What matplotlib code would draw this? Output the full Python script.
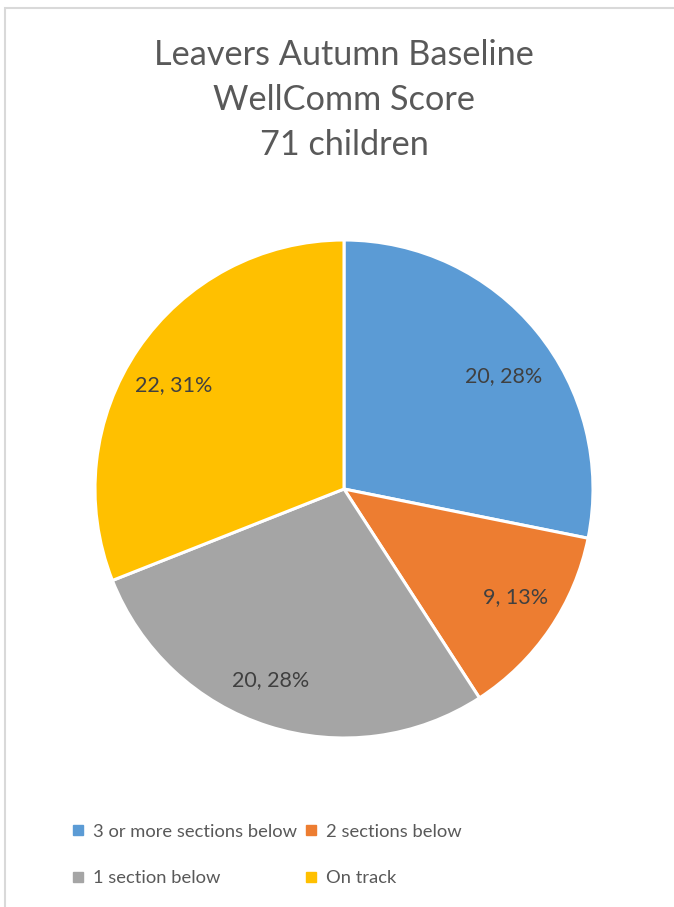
import matplotlib
matplotlib.use("Agg")
import matplotlib.pyplot as plt
from matplotlib.patches import Rectangle
from matplotlib.lines import Line2D

categories = ["3 or more sections below", "2 sections below", "1 section below", "On track"]
counts = [20, 9, 20, 22]
colors = ["#5B9BD5", "#ED7D31", "#A5A5A5", "#FFC000"]
title_lines = ["Leavers Autumn Baseline", "WellComm Score", "71 children"]

# label placement (fraction of radius, x/y) as in the original layout
label_pos = [(0.641, 0.454), (0.687, -0.434), (-0.293, -0.767), (-0.685, 0.418)]

plt.rcParams['font.family'] = ['Lato', 'DejaVu Sans']

W, H = 674, 907
fig = plt.figure(figsize=(W / 100, H / 100), dpi=100)

# border
fig.add_artist(Rectangle((4.5 / W, -0.1), 1.2, (H - 7.5) / H + 0.1, transform=fig.transFigure,
                         fill=False, edgecolor="#D9D9D9", linewidth=1.5))

cx, cy, r = 344, 489, 249
ax = fig.add_axes([(cx - r) / W, (H - cy - r) / H, 2 * r / W, 2 * r / H])
total = sum(counts)
labels = [f"{c}, {round(c / total * 100)}%" for c in counts]
wedges, texts = ax.pie(counts, colors=colors, startangle=90, counterclock=False,
                       labels=labels, labeldistance=0.79,
                       wedgeprops=dict(edgecolor="white", linewidth=2.2),
                       textprops=dict(fontsize=15.5, color="#404040"))
for t, p in zip(texts, label_pos):
    t.set_ha("center")
    t.set_va("center")
    t.set_position(p)
ax.set_xlim(-1, 1)
ax.set_ylim(-1, 1)
ax.set_aspect("equal")
ax.axis("off")

fig.text(cx / W, 1 - 100 / H, "\n".join(title_lines), ha="center", va="center",
         fontsize=24.7, color="#595959", linespacing=1.5)

order = [0, 2, 1, 3]
handles = [Line2D([], [], marker="s", linestyle="none", markersize=6.5,
                  markerfacecolor=colors[i], markeredgecolor=colors[i]) for i in order]
leg = fig.legend(handles, [categories[i] for i in order], ncol=2, loc="center left",
                 bbox_to_anchor=(55 / W, 1 - 855 / H), frameon=False,
                 fontsize=13.2, labelcolor="#595959", handlelength=0.7,
                 handletextpad=0.45, columnspacing=0.45, labelspacing=1.67)

fig.savefig("out.png", dpi=100, facecolor="white")
